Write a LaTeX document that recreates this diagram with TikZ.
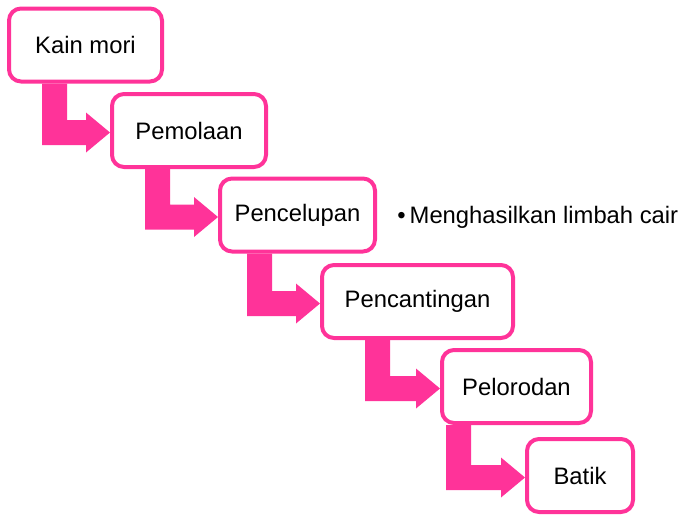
\documentclass[tikz,border=0pt]{standalone}
\usepackage{fontspec}
\setmainfont{Liberation Sans}
\usetikzlibrary{calc,backgrounds}
\definecolor{hotpink}{RGB}{255,51,153}
\newcommand\steparrow[3]{%
  \fill[arrowfill] (#3,0 |- #1.south) -- ++(25,0)
    |- ($(#2.west)+(-24,-10.5)$) -- ++(0,-7.5)
    -- ($(#2.west)+(0,2)$) -- ($(#2.west)+(-24,22)$) -- ++(0,-7.5)
    -| (#3,0 |- #1.south) -- cycle;}
\begin{document}
\begin{tikzpicture}[x=0.5pt,y=-0.5pt,
  stepbox/.style={draw=hotpink,fill=white,line width=2pt,rounded corners=6pt,
    inner sep=0pt,font=\fontsize{11.9}{14}\selectfont,minimum height=36.5pt},
  arrowfill/.style={fill=hotpink},
  note/.style={font=\fontsize{11.9}{14}\selectfont,inner sep=0pt,anchor=west}]
\useasboundingbox (0,0) rectangle (682,515);
\node[stepbox,minimum width=76.5pt] (b1) at (85.5,45) {Kain mori};
\node[stepbox,minimum width=77pt] (b2) at (189,130.5) {Pemolaan};
\node[stepbox,minimum width=77.5pt] (b3) at (297.5,215) {Pencelupan};
\node[stepbox,minimum width=95.5pt] (b4) at (417.5,301.5) {Pencantingan};
\node[stepbox,minimum width=74.5pt] (b5) at (516.5,386.5) {Pelorodan};
\node[stepbox,minimum width=53pt] (b6) at (580,475.5) {Batik};
\node[note] (n1) at (397,217) {\textbullet\,Menghasilkan limbah cair};
\begin{scope}[on background layer]
\steparrow{b1}{b2}{42}
\steparrow{b2}{b3}{145}
\steparrow{b3}{b4}{247}
\steparrow{b4}{b5}{365}
\steparrow{b5}{b6}{446}
\end{scope}
\end{tikzpicture}
\end{document}
